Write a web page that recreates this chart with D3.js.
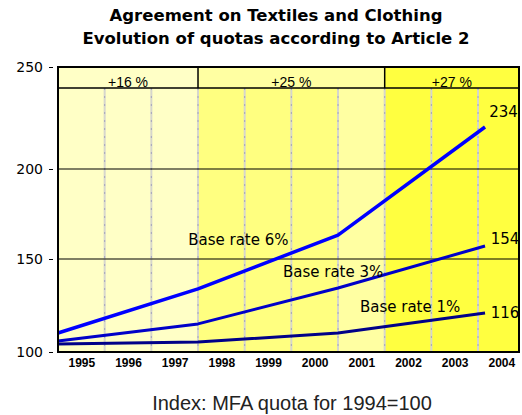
<!DOCTYPE html>
<html>
<head>
<meta charset="utf-8">
<script src="https://cdn.jsdelivr.net/npm/d3@7"></script>
<style>
  body { margin: 0; background: #fff; }
  svg { display: block; }
</style>
</head>
<body>
<div id="chart"></div>
<script>
// Data
const yearLabels = ["1995", "1996", "1997", "1998", "1999", "2000", "2001", "2002", "2003", "2004"];
const yTicks = [100, 150, 200, 250];

// points where the lines bend
const pointYears = [1995, 1998, 2001, 2004.15];
const rate6 = [110.2, 133.9, 163.3, 220.6];
const rate3 = [105.9, 115.1, 134.4, 157.2];
const rate1 = [104.3, 105.4, 110.2, 121.0];

const seriesNames = ["Base rate 6%", "Base rate 3%", "Base rate 1%"];
const endLabels = ["234", "154", "116"];

// phases of the agreement (header row)
const phaseLabels = ["+16 %", "+25 %", "+27 %"];
const phaseStart = [1995, 1998, 2002];
const phaseEnd = [1998, 2002, 2005];

// Dimensions
const width = 522;
const height = 415;
const plotLeft = 58, plotRight = 519, plotTop = 67, plotBottom = 352;
const headerH = 21;

const svg = d3.select("#chart")
    .append("svg")
    .attr("width", width)
    .attr("height", height);

const x = d3.scaleLinear()
    .domain([1995, 2005])
    .range([plotLeft, plotLeft + 10 * 46.67]);

const y = d3.scaleLinear()
    .domain(yTicks)
    .range([plotBottom, 259, 169, plotTop]);

const clipX = v => Math.min(x(v), plotRight);

// fond des colonnes
const columnColors = ["#ffffc6", "#ffffc6", "#ffffc6", "#ffff80", "#ffff80", "#ffff80",
                      "#ffffa2", "#ffff40", "#ffff40", "#ffff40"];
svg.selectAll("rect.col")
    .data(yearLabels)
    .enter()
    .append("rect")
    .attr("class", "col")
    .attr("x", d => x(+d))
    .attr("y", plotTop + headerH)
    .attr("width", d => clipX(+d + 1) - x(+d))
    .attr("height", plotBottom - plotTop - headerH)
    .attr("fill", (d, i) => columnColors[i]);

// header row
const headerColors = ["#ffffc6", "#ffffa2", "#ffff40"];
svg.selectAll("rect.phase")
    .data(phaseLabels)
    .enter()
    .append("rect")
    .attr("class", "phase")
    .attr("x", (d, i) => x(phaseStart[i]))
    .attr("y", plotTop)
    .attr("width", (d, i) => clipX(phaseEnd[i]) - x(phaseStart[i]))
    .attr("height", headerH)
    .attr("fill", (d, i) => headerColors[i]);

svg.selectAll("text.phase")
    .data(phaseLabels)
    .enter()
    .append("text")
    .attr("class", "phase")
    .attr("x", (d, i) => (x(phaseStart[i]) + clipX(phaseEnd[i])) / 2)
    .attr("y", plotTop + headerH - 1)
    .attr("text-anchor", "middle")
    .style("font", "14px 'Liberation Sans', Arial, sans-serif")
    .text(d => d);

// separators in the header
svg.selectAll("line.sep")
    .data(phaseStart.slice(1))
    .enter()
    .append("line")
    .attr("x1", d => x(d)).attr("x2", d => x(d))
    .attr("y1", plotTop).attr("y2", plotTop + headerH)
    .attr("stroke", "#000")
    .attr("stroke-width", 1.5);

// vertical grid lines between the years
const boundaries = yearLabels.slice(1).map(d => +d);
svg.selectAll("line.grid")
    .data(boundaries)
    .enter()
    .append("line")
    .attr("x1", d => x(d)).attr("x2", d => x(d))
    .attr("y1", plotTop + headerH).attr("y2", plotBottom)
    .attr("stroke", "#d6d6cc")
    .attr("stroke-width", 2);
svg.selectAll("line.gridDot")
    .data(boundaries)
    .enter()
    .append("line")
    .attr("x1", d => x(d)).attr("x2", d => x(d))
    .attr("y1", plotTop + headerH).attr("y2", plotBottom)
    .attr("stroke", "#a4a4bc")
    .attr("stroke-width", 1)
    .attr("stroke-dasharray", "2,6");

// horizontal lines at 150 and 200
svg.selectAll("line.hline")
    .data([150, 200])
    .enter()
    .append("line")
    .attr("x1", plotLeft).attr("x2", plotRight)
    .attr("y1", d => y(d)).attr("y2", d => y(d))
    .attr("stroke", "#000")
    .attr("stroke-width", 1.2);

svg.append("line")
    .attr("x1", plotLeft).attr("x2", plotRight)
    .attr("y1", plotTop + headerH).attr("y2", plotTop + headerH)
    .attr("stroke", "#000")
    .attr("stroke-width", 1.5);

// les courbes
const line = d3.line()
    .x((d, i) => x(pointYears[i]))
    .y(d => y(d));

const series = [rate6, rate3, rate1];
const lineColors = ["#0000ff", "#0000c8", "#000088"];
const lineWidths = [3.5, 3, 3];

svg.selectAll("path.rate")
    .data(series)
    .enter()
    .append("path")
    .attr("class", "rate")
    .attr("d", line)
    .attr("fill", "none")
    .attr("stroke", (d, i) => lineColors[i])
    .attr("stroke-width", (d, i) => lineWidths[i])
    .attr("stroke-linejoin", "round");

// labels (positions in data units)
const nameYears = [1997.79, 1999.82, 2001.47];
const nameValues = [157.8, 140.3, 121.5];
const endYears = [2004.24, 2004.27, 2004.27];
const endValues = [225.5, 158.3, 118.3];

const labelFont = "15px 'DejaVu Sans', Verdana, sans-serif";
svg.selectAll("text.name")
    .data(seriesNames)
    .enter()
    .append("text")
    .attr("x", (d, i) => x(nameYears[i]))
    .attr("y", (d, i) => y(nameValues[i]))
    .style("font", labelFont)
    .text(d => d);

svg.selectAll("text.end")
    .data(endLabels)
    .enter()
    .append("text")
    .attr("x", (d, i) => x(endYears[i]))
    .attr("y", (d, i) => y(endValues[i]))
    .style("font", labelFont)
    .text(d => d);

// cadre
svg.append("rect")
    .attr("x", plotLeft).attr("y", plotTop)
    .attr("width", plotRight - plotLeft).attr("height", plotBottom - plotTop)
    .attr("fill", "none")
    .attr("stroke", "#000")
    .attr("stroke-width", 2);

// axes
const yAxis = svg.append("g")
    .attr("transform", `translate(${plotLeft - 5},0)`)
    .call(d3.axisLeft(y).tickValues(yTicks).tickSize(4).tickPadding(6));
yAxis.select(".domain").remove();
yAxis.selectAll("text")
    .style("font", "14px 'DejaVu Sans', Verdana, sans-serif")
    .attr("fill", "#000");
yAxis.selectAll("line").attr("stroke", "#000");

const xAxis = svg.append("g")
    .attr("transform", `translate(0,${plotBottom})`)
    .call(d3.axisBottom(x)
        .tickValues(yearLabels.map(d => +d + 0.5))
        .tickFormat(d => String(Math.floor(d)))
        .tickSize(0)
        .tickPadding(6));
xAxis.select(".domain").remove();
xAxis.selectAll("text")
    .style("font", "bold 12px 'Liberation Sans', Arial, sans-serif")
    .attr("fill", "#000");

// titre
const title = svg.append("text")
    .attr("x", 276)
    .attr("text-anchor", "middle")
    .style("font", "bold 16.5px 'DejaVu Sans', Verdana, sans-serif");
title.append("tspan").attr("x", 276).attr("y", 21).text("Agreement on Textiles and Clothing");
title.append("tspan").attr("x", 276).attr("y", 44).text("Evolution of quotas according to Article 2");

// note en bas
svg.append("text")
    .attr("x", 292)
    .attr("y", 410)
    .attr("text-anchor", "middle")
    .attr("fill", "#222")
    .style("font", "20px 'Liberation Sans', Arial, sans-serif")
    .text("Index: MFA quota for 1994=100");
</script>
</body>
</html>
